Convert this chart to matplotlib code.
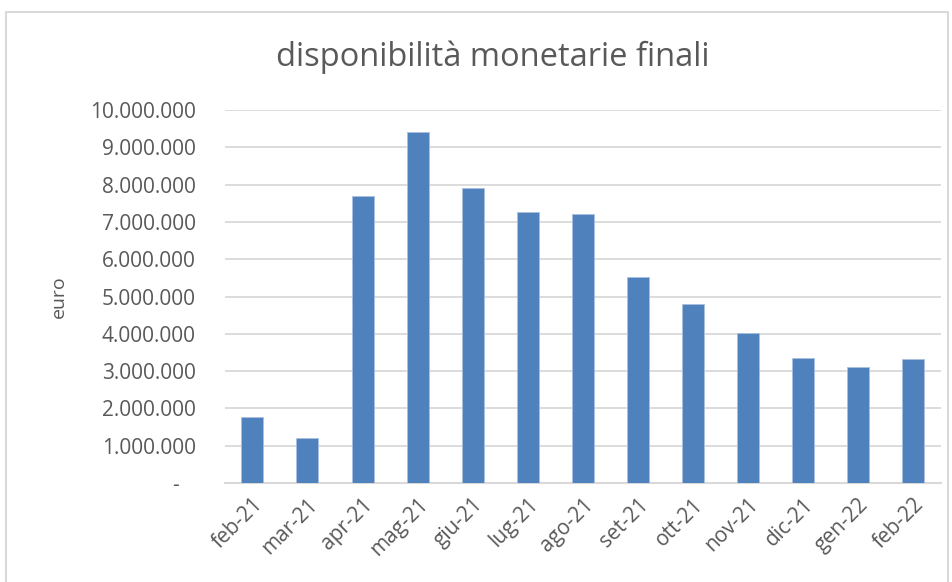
import matplotlib.pyplot as plt
from matplotlib.patches import Rectangle
from matplotlib.ticker import FuncFormatter

# monthly values (euro)
months = ['feb-21', 'mar-21', 'apr-21', 'mag-21', 'giu-21', 'lug-21', 'ago-21',
          'set-21', 'ott-21', 'nov-21', 'dic-21', 'gen-22', 'feb-22']
values = [1780000, 1200000, 7690000, 9410000, 7910000, 7260000, 7210000,
          5520000, 4810000, 4010000, 3360000, 3120000, 3320000]
y_ticks = [0, 1000000, 2000000, 3000000, 4000000, 5000000, 6000000,
           7000000, 8000000, 9000000, 10000000]

plt.rcParams['font.family'] = ['Open Sans', 'DejaVu Sans']
grey = '#595959'


def euro_fmt(v, pos):
    if v == 0:
        return '-   '
    return f'{int(v):,}'.replace(',', '.')


fig = plt.figure(figsize=(9.53, 5.82), dpi=100)
ax = fig.add_axes([0.236, 0.170, 0.751, 0.641])

# chart frame like the Excel chart border
fig.patches.append(Rectangle((6 / 953, -0.05), 942 / 953, 1.0 - 12 / 582 + 0.05,
                             transform=fig.transFigure, fill=False,
                             edgecolor='#d9d9d9', linewidth=1.5))

x = range(len(months))
ax.bar(x, values, width=0.4, color='#4f81bd', edgecolor='#a9c0e0', linewidth=0.6,
       zorder=3)

ax.set_xlim(-0.5, len(months) - 0.5)
ax.set_ylim(0, 10000000)
ax.set_yticks(y_ticks)
ax.yaxis.set_major_formatter(FuncFormatter(euro_fmt))
ax.grid(axis='y', color='#d9d9d9', linewidth=1.3, zorder=0)
for s in ['top', 'right', 'left']:
    ax.spines[s].set_visible(False)
ax.spines['bottom'].set_color('#d9d9d9')
ax.spines['bottom'].set_linewidth(1.5)

ax.tick_params(axis='y', length=0, pad=21, labelsize=15, labelcolor=grey)
ax.tick_params(axis='x', length=0, pad=8, labelsize=15, labelcolor=grey)
ax.set_xticks(list(x))
ax.set_xticklabels(months, rotation=45, ha='right', rotation_mode='anchor')

ax.set_ylabel('euro', fontsize=14, color=grey, labelpad=16)
fig.text(0.517, 0.902, 'disponibilità monetarie finali', ha='center', va='center',
         fontsize=23.5, color=grey)

fig.savefig('out.png', dpi=100)
